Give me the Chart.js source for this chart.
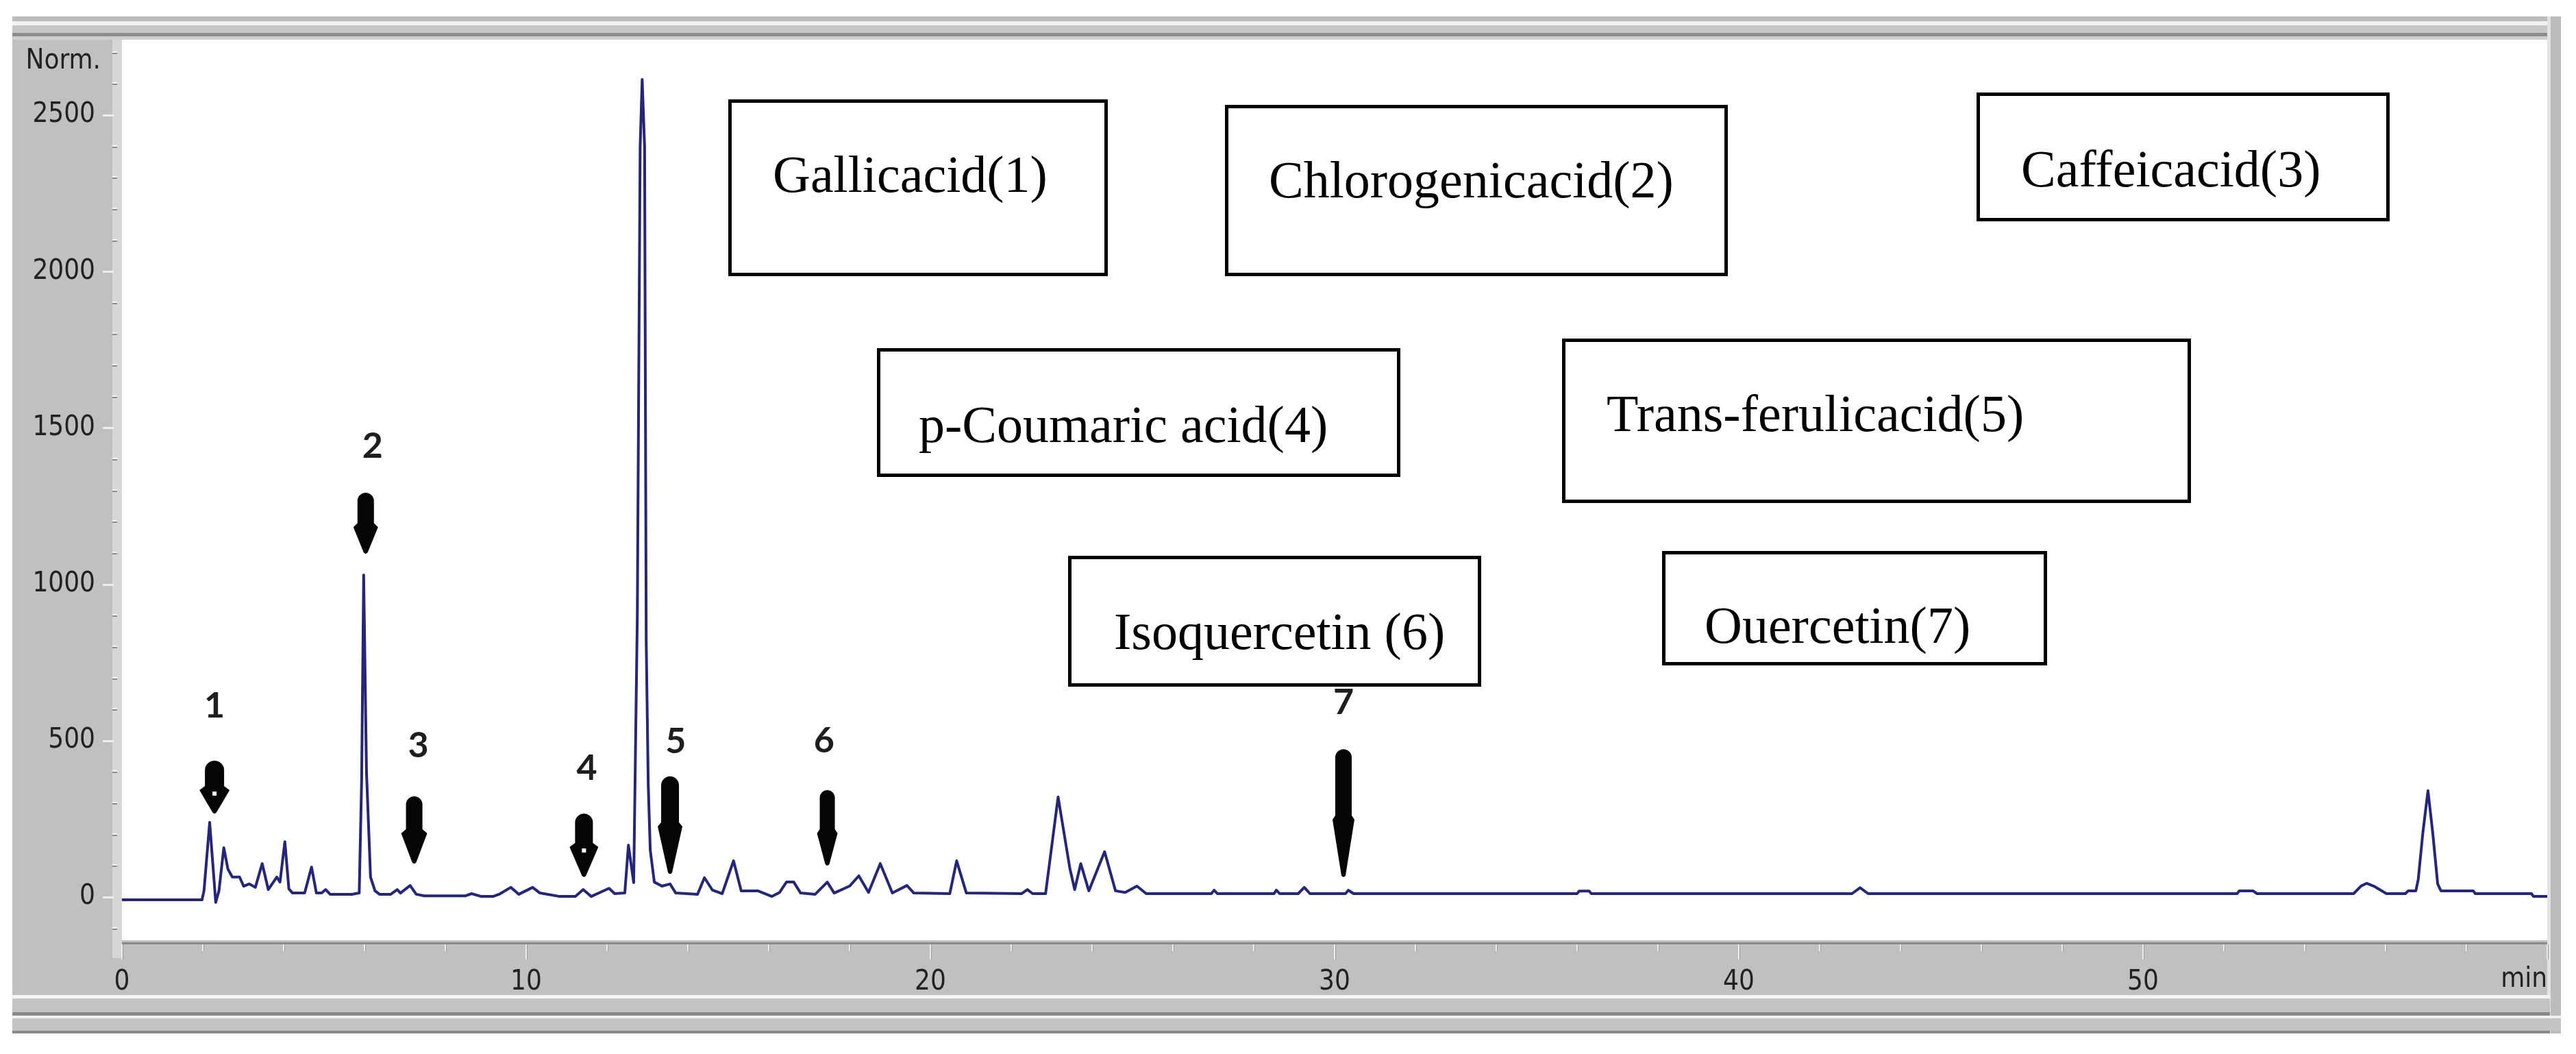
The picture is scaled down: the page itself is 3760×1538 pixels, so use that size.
<!DOCTYPE html>
<html>
<head>
<meta charset="utf-8">
<title>HPLC chromatogram</title>
<script src="https://cdn.jsdelivr.net/npm/chart.js@4.4.1/dist/chart.umd.min.js"></script>
<style>
  html, body { margin: 0; padding: 0; background: #fff; }
  #wrap { width: 3760px; height: 1538px; }
</style>
</head>
<body>
<div id="wrap"><canvas id="hplc" width="3760" height="1538"></canvas></div>
<script>
// retention time (min) and detector signal (Norm.)
const times = [
  0, 1.98, 2.03, 2.17, 2.32, 2.40, 2.52, 2.62, 2.73, 2.91, 3.01, 3.15, 3.30, 3.47, 3.62, 3.83, 3.91, 4.03, 4.13, 4.22,
  4.52, 4.69, 4.81, 4.94, 5.04, 5.15, 5.69, 5.87, 5.93, 5.98, 6.05, 6.15, 6.26, 6.37, 6.65, 6.81, 6.89, 7.13, 7.28, 7.48,
  8.50, 8.65, 8.89, 9.18, 9.33, 9.62, 9.82, 10.16, 10.34, 10.83, 11.22, 11.41, 11.61, 12.05, 12.19, 12.44, 12.53, 12.66, 12.75, 12.82,
  12.87, 12.93, 12.97, 13.02, 13.07, 13.17, 13.36, 13.56, 13.70, 14.24, 14.41, 14.61, 14.85, 15.13, 15.32, 15.73, 16.08, 16.27, 16.44, 16.62,
  16.79, 17.15, 17.45, 17.62, 18.00, 18.23, 18.47, 18.76, 19.06, 19.42, 19.59, 20.48, 20.65, 20.89, 22.26, 22.40, 22.53, 22.85, 23.16, 23.45,
  23.57, 23.72, 23.92, 24.31, 24.58, 24.82, 25.11, 25.34, 26.95, 27.02, 27.10, 28.50, 28.56, 28.64, 29.10, 29.25, 29.39, 30.27, 30.34, 30.47,
  36.00, 36.05, 36.30, 36.35, 42.80, 43.00, 43.20, 52.33, 52.38, 52.72, 52.82, 55.21, 55.39, 55.53, 55.71, 55.93, 56.02, 56.49, 56.56, 56.75,
  56.81, 56.92, 57.05, 57.17, 57.29, 57.37, 58.17, 58.22, 59.61, 59.66, 60.00
];
const signal = [
  -9, -9, 20, 239, -17, 20, 158, 90, 64, 64, 35, 42, 31, 107, 24, 64, 48, 177, 26, 13,
  13, 96, 13, 13, 24, 9, 9, 13, 375, 1030, 399, 64, 20, 9, 9, 24, 13, 37, 9, 4,
  4, 11, 2, 2, 9, 31, 9, 31, 13, 2, 2, 24, 2, 28, 11, 13, 166, 46, 900, 2400,
  2614, 2400, 820, 360, 150, 48, 35, 42, 13, 9, 62, 22, 11, 116, 20, 20, 2, 15, 48, 48,
  13, 9, 48, 13, 35, 68, 15, 107, 13, 37, 13, 11, 116, 13, 11, 24, 11, 11, 320, 92,
  24, 107, 20, 145, 20, 15, 35, 11, 11, 22, 11, 11, 22, 11, 11, 31, 11, 11, 22, 11,
  11, 19, 19, 11, 11, 30, 11, 11, 20, 20, 11, 11, 35, 44, 35, 18, 11, 11, 20, 20,
  57, 202, 340, 202, 42, 20, 20, 11, 11, 2, 2
];

// axis range and labelled ticks
const xRange = [0, 60];
const yRange = [-138, 2741];
const xLabelTicks = [0, 10, 20, 30, 40, 50];
const yLabelTicks = [0, 500, 1000, 1500, 2000, 2500];

// numbered peak markers: arrow at (time, top..tip signal), number above
const peakNumbers = ["1", "2", "3", "4", "5", "6", "7"];
const arrowTimes = [2.29, 6.03, 7.23, 11.43, 13.56, 17.45, 30.22];
const arrowTops = [436, 1293, 322, 267, 386, 342, 473];
const arrowHeads = [355, 1196, 217, 173, 239, 217, 261];
const arrowTips = [267, 1098, 107, 64, 74, 101, 64];
const numberTimes = [2.29, 6.20, 7.33, 11.50, 13.70, 17.37, 30.22];
const numberLevels = [611, 1442, 484, 412, 497, 500, 622];

// compound legend boxes
const compoundNames = ["Gallicacid(1)", "Chlorogenicacid(2)", "Caffeicacid(3)", "p-Coumaric acid(4)",
  "Trans-ferulicacid(5)", "Isoquercetin (6)", "Ouercetin(7)"];

// ---- layout / style (not data) ----
const boxLayout = [
  { x: 1063, y: 145, w: 554, h: 258, tx: 1128, ty: 280 },
  { x: 1788, y: 153, w: 734, h: 250, tx: 1852, ty: 288 },
  { x: 2885, y: 135, w: 603, h: 188, tx: 2950, ty: 272 },
  { x: 1280, y: 508, w: 764, h: 188, tx: 1341, ty: 645 },
  { x: 2280, y: 494, w: 918, h: 240, tx: 2345, ty: 629 },
  { x: 1559, y: 811, w: 603, h: 191, tx: 1626, ty: 947 },
  { x: 2426, y: 804, w: 562, h: 167, tx: 2488, ty: 938 }
];
const arrowSize = [
  { shaft: 28, head: 44, dot: true },
  { shaft: 24, head: 36, dot: false },
  { shaft: 24, head: 38, dot: false },
  { shaft: 26, head: 42, dot: true },
  { shaft: 26, head: 36, dot: false },
  { shaft: 22, head: 30, dot: false },
  { shaft: 24, head: 32, dot: false }
];
const axisFontFamily = "'Liberation Sans Narrow', 'DejaVu Sans Condensed', 'Arial Narrow', 'Liberation Sans', sans-serif";
const axisFont = { family: axisFontFamily, size: 40 };
const TRACE = "#25257a";

function rect(ctx, x, y, w, h, c) {
  ctx.fillStyle = c;
  ctx.fillRect(x, y, w, h);
}

// ================= FRAME (grey instrument panel) =================
const framePlugin = {
  id: "frame",
  beforeDraw(chart) {
    const { ctx, chartArea: a } = chart;
    ctx.save();
    rect(ctx, 0, 0, chart.width, chart.height, "#ffffff");
    rect(ctx, 18, 24, 3720, 1484, "#c0c0c0");
    // top bars
    rect(ctx, 18, 24, 3704, 7, "#bcbcbc");
    rect(ctx, 18, 31, 3704, 6, "#f2f2f2");
    rect(ctx, 18, 37, 3704, 11, "#c6c6c6");
    rect(ctx, 18, 48, 3704, 5, "#8c8c8c");
    rect(ctx, 18, 53, 3704, 5, "#cfcfcf");
    // right bar
    rect(ctx, 3718, 24, 5, 1484, "#e2e2e2");
    rect(ctx, 3723, 24, 15, 1484, "#bcbcbc");
    // bottom bars
    rect(ctx, 18, 1452, 3704, 5, "#f4f4f4");
    rect(ctx, 18, 1457, 3704, 20, "#c4c4c4");
    rect(ctx, 18, 1477, 3704, 5, "#8a8a8a");
    rect(ctx, 18, 1482, 3720, 4, "#f0f0f0");
    rect(ctx, 18, 1486, 3720, 18, "#c4c4c4");
    rect(ctx, 18, 1504, 3704, 4, "#8a8a8a");
    // plot area
    rect(ctx, a.left, a.top, a.right - a.left, a.bottom - a.top, "#ffffff");
    // axis strips
    rect(ctx, a.left - 14, a.top, 14, a.bottom - a.top + 26, "#d6d6d6");
    rect(ctx, a.left, a.bottom + 3, a.right - a.left, 3, "#8a8a8a");
    ctx.restore();
  },
  afterDraw(chart) {
    const { ctx, chartArea: a } = chart;
    const xs = chart.scales.x, ys = chart.scales.y;
    ctx.save();

    // x tick marks
    xs.ticks.forEach(t => {
      const px = Math.round(xs.getPixelForValue(t.value));
      const len = t.value % 10 === 0 ? 22 : 10;
      rect(ctx, px - 1, a.bottom + 6, 2, len, "#ececec");
      rect(ctx, px + 1, a.bottom + 6, 1, len, "#9a9a9a");
    });
    // y tick marks
    ys.ticks.forEach(t => {
      const py = Math.round(ys.getPixelForValue(t.value));
      if (t.value % 500 === 0) {
        rect(ctx, a.left - 28, py - 1, 16, 3, "#eeeeee");
      } else {
        rect(ctx, a.left - 14, py - 2, 7, 2, "#f4f4f4");
        rect(ctx, a.left - 14, py, 7, 2, "#8a8a8a");
      }
    });

    ctx.fillStyle = "#222";
    ctx.font = "40px " + axisFontFamily;
    ctx.textAlign = "right";
    ctx.textBaseline = "alphabetic";
    ctx.fillText("Norm.", a.left - 31, 100);
    ctx.fillText("min", a.right, 1440);

    // arrows + peak numbers
    arrowTimes.forEach((t, i) => {
      const x = xs.getPixelForValue(t);
      const yTop = ys.getPixelForValue(arrowTops[i]);
      const yHead = ys.getPixelForValue(arrowHeads[i]);
      const yTip = ys.getPixelForValue(arrowTips[i]);
      const s = arrowSize[i];
      const r = s.shaft / 2;
      ctx.fillStyle = "#050505";
      ctx.beginPath();
      ctx.moveTo(x - r, yTop + r);
      ctx.arc(x, yTop + r, r, Math.PI, 0);
      ctx.lineTo(x + r, yHead);
      ctx.lineTo(x + s.head / 2, yHead + 6);
      ctx.lineTo(x + 3, yTip - 2);
      ctx.quadraticCurveTo(x, yTip + 2, x - 3, yTip - 2);
      ctx.lineTo(x - s.head / 2, yHead + 6);
      ctx.lineTo(x - r, yHead);
      ctx.closePath();
      ctx.fill();
      if (s.dot) {
        rect(ctx, x - 3, yHead + 8, 6, 6, "#ffffff");
      }
    });
    ctx.fillStyle = "#1e1e1e";
    ctx.font = "bold 52px Lato, 'Open Sans', sans-serif";
    ctx.textAlign = "center";
    ctx.textBaseline = "middle";
    numberTimes.forEach((t, i) => {
      ctx.fillText(peakNumbers[i], xs.getPixelForValue(t), ys.getPixelForValue(numberLevels[i]));
    });

    // compound boxes
    ctx.font = "76px 'Liberation Serif', 'DejaVu Serif', serif";
    ctx.textAlign = "left";
    ctx.textBaseline = "alphabetic";
    compoundNames.forEach((name, i) => {
      const b = boxLayout[i];
      rect(ctx, b.x, b.y, b.w, b.h, "#ffffff");
      ctx.strokeStyle = "#000";
      ctx.lineWidth = 5;
      ctx.strokeRect(b.x + 2.5, b.y + 2.5, b.w - 5, b.h - 5);
      ctx.fillStyle = "#000";
      ctx.fillText(name, b.tx, b.ty);
    });
    ctx.restore();
  }
};

// ================= CHART =================
const points = times.map((t, i) => ({ x: t, y: signal[i] }));

new Chart(document.getElementById("hplc").getContext("2d"), {
  type: "line",
  data: {
    datasets: [{
      data: points,
      borderColor: TRACE,
      borderWidth: 4,
      pointRadius: 0,
      tension: 0,
      borderJoinStyle: "round",
      fill: false
    }]
  },
  options: {
    responsive: false,
    devicePixelRatio: 1,
    animation: false,
    layout: { padding: { left: 18, top: 58, right: 42, bottom: 86 } },
    plugins: {
      legend: { display: false },
      tooltip: { enabled: false }
    },
    scales: {
      x: {
        type: "linear",
        min: xRange[0],
        max: xRange[1],
        border: { display: false },
        grid: { display: false },
        ticks: {
          stepSize: 2,
          autoSkip: false,
          maxRotation: 0,
          padding: 30,
          color: "#222",
          font: axisFont,
          callback: v => xLabelTicks.includes(v) ? String(v) : ""
        },
        afterFit: s => { s.height = 80; }
      },
      y: {
        min: yRange[0],
        max: yRange[1],
        border: { display: false },
        grid: { display: false },
        ticks: {
          stepSize: 100,
          includeBounds: false,
          autoSkip: false,
          maxTicksLimit: 100,
          padding: 31,
          color: "#222",
          font: axisFont,
          callback: v => yLabelTicks.includes(v) ? String(v) : ""
        },
        afterFit: s => { s.width = 160; }
      }
    }
  },
  plugins: [framePlugin]
});
</script>
</body>
</html>
